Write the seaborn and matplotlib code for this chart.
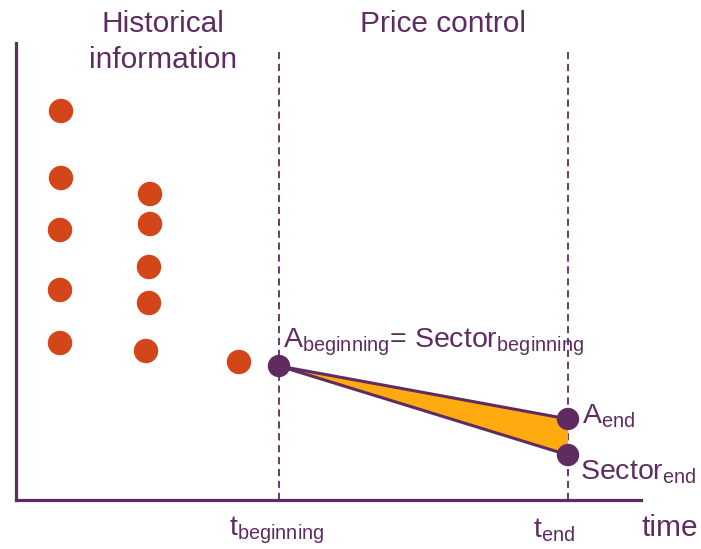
import matplotlib
matplotlib.use("Agg")
import matplotlib.pyplot as plt
import seaborn as sns
import pandas as pd

sns.set_style("white")
plt.rcParams["font.family"] = ["Liberation Sans", "DejaVu Sans"]
plt.rcParams["mathtext.fontset"] = "custom"
plt.rcParams["mathtext.rm"] = "Liberation Sans"
plt.rcParams["mathtext.it"] = "Liberation Sans"

PURPLE = "#5F2C62"
ORANGE = "#D2461A"
GOLD = "#FFAB10"

# Historical observations (time, level)
hist_time = [45, 45, 44, 44, 44, 134, 134, 133, 133, 130, 223]
hist_level = [389, 322, 270, 210, 157, 306, 276, 233, 197, 149, 138]

# Price-control period
t_beginning = 263
t_end = 552
level_beginning = 134
a_end = 81
sector_end = 45

fig = plt.figure(figsize=(7.01, 5.49), dpi=100)
ax = fig.add_axes([16 / 701, 49 / 549, 625 / 701, 457 / 549])
ax.set_xlim(0, 625)
ax.set_ylim(0, 457)

hist = pd.DataFrame({"time": hist_time, "level": hist_level})
sns.scatterplot(data=hist, x="time", y="level", ax=ax, s=310, color=ORANGE,
                edgecolor="none", legend=False, zorder=3)

# Gap between the company path and the sector path
ax.fill([t_beginning, t_end, t_end], [level_beginning, a_end, sector_end],
        color=GOLD, lw=0, zorder=1)

paths = pd.DataFrame({
    "time": [t_beginning, t_end, t_beginning, t_end],
    "level": [level_beginning, a_end, level_beginning, sector_end],
    "path": ["A", "A", "Sector", "Sector"],
})
sns.lineplot(data=paths, x="time", y="level", units="path", estimator=None,
             color=PURPLE, lw=2.2, ax=ax, legend=False, zorder=2)

ends = pd.DataFrame({"time": [t_beginning, t_end, t_end],
                     "level": [level_beginning, a_end, sector_end]})
sns.scatterplot(data=ends, x="time", y="level", ax=ax, s=260, color=PURPLE,
                edgecolor="none", legend=False, zorder=4)

for t in (t_beginning, t_end):
    ax.plot([t, t], [0, 448], color=PURPLE, lw=1.3, ls=(0, (4, 2.6)),
            zorder=0, clip_on=False)

for side in ("top", "right"):
    ax.spines[side].set_visible(False)
for side in ("left", "bottom"):
    ax.spines[side].set_color(PURPLE)
    ax.spines[side].set_linewidth(2.3)
ax.set_xticks([])
ax.set_yticks([])
ax.set_xlabel("")
ax.set_ylabel("")

plain = dict(color=PURPLE, fontsize=21.5, clip_on=False)
sub = dict(color=PURPLE, fontsize=20.5, clip_on=False)
ax.text(147, 468, "Historical", ha="center", va="baseline", **plain)
ax.text(147, 432, "information", ha="center", va="baseline", **plain)
ax.text(427, 468, "Price control", ha="center", va="baseline", **plain)
ax.text(626, -36, "time", ha="left", va="baseline", **plain)
ax.text(267, 153, r"$\mathrm{A_{beginning}}$= $\mathrm{Sector_{beginning}}$",
        ha="left", va="baseline", **sub)
ax.text(566, 76, r"$\mathrm{A_{end}}$", ha="left", va="baseline", **sub)
ax.text(564, 20, r"$\mathrm{Sector_{end}}$", ha="left", va="baseline", **sub)
ax.text(213, -35, r"$\mathrm{t_{beginning}}$", ha="left", va="baseline", **sub)
ax.text(517, -37, r"$\mathrm{t_{end}}$", ha="left", va="baseline", **sub)

fig.savefig("out.png", dpi=100)
